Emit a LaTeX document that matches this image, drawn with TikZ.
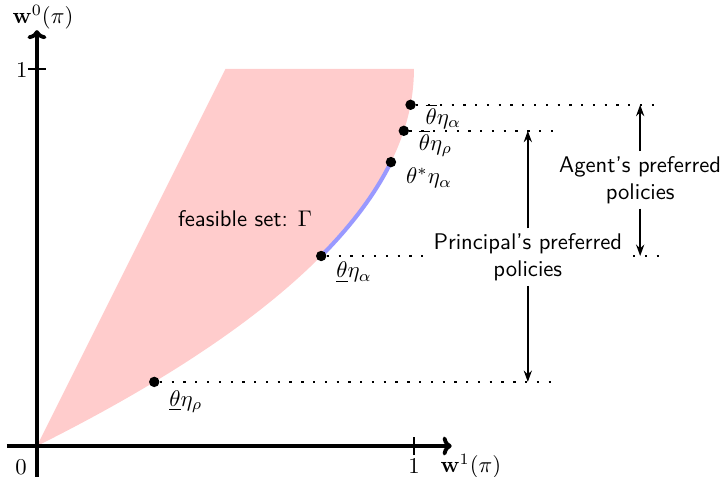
\documentclass[tikz,border=0pt]{standalone}
\usepackage{amsmath,amssymb}
\usetikzlibrary{arrows.meta, positioning}

\begin{document}
\begin{tikzpicture}[x=5.85cm, y=5.85cm, >={Stealth[length=5pt, width=3.6pt]},
  dot/.style={circle, fill, inner sep=0pt, minimum size=4.6pt},
  guide/.style={thick, dash pattern=on 1pt off 4.2pt},
  lab/.style={anchor=north west, inner sep=0pt, xshift=6.5pt, yshift=-2.5pt},
  pref/.style={align=center, font=\sffamily, inner sep=2pt}]
  \useasboundingbox (-0.098,-0.082) rectangle (1.825,1.183);
  % feasible set and the efficient piece of its frontier
  \fill[red!20] (0,0) -- (0.5,1) -- (1,1)
      .. controls (1,0.667) and (0.667,0.333) .. (0,0) -- cycle;
  \draw[blue!40, line width=1.8pt, domain=0.504:0.753, samples=30]
      plot ({\x*(2-\x)}, {\x});
  \node (fset) at (0.552,0.602) {\sffamily feasible set: $\Gamma$};
  % axes
  \coordinate (o) at (0,0);
  \draw[-{To[length=4pt]}, line width=1.7pt] (-0.08,0) -- (1.10,0) coordinate (xend);
  \draw[-{To[length=4pt]}, line width=1.7pt] (0,-0.082) -- (0,1.103) coordinate (yend);
  \draw[thick] (1,-0.024) -- (1,0.024);
  \draw[thick] (-0.024,1) -- (0.024,1);
  \node (xone) at (1,-0.053) {$1$};
  \node (yone) at (-0.04,0.997) {$1$};
  \node (zero) at (-0.042,-0.056) {$0$};
  \node (xlab) at (1.151,-0.053) {$\mathbf{w}^1(\pi)$};
  \node (ylab) at (0.016,1.138) {$\mathbf{w}^0(\pi)$};
  % points on the frontier
  \node[dot] (lr) at ({0.17*(2-0.17)},0.17) {};
  \node[dot] (la) at ({0.504*(2-0.504)},0.504) {};
  \node[dot] (sa) at ({0.753*(2-0.753)},0.753) {};
  \node[dot] (ur) at ({0.836*(2-0.836)},0.836) {};
  \node[dot] (ua) at ({0.905*(2-0.905)},0.905) {};
  \coordinate (prinend) at (1.37,0);
  \coordinate (agend) at (1.655,0);
  \draw[guide] (ua) -- (ua -| agend);
  \draw[guide] (ur) -- (ur -| prinend);
  \draw[guide] (la) -- (la -| agend);
  \draw[guide] (lr) -- (lr -| prinend);
  \node[lab, yshift=3pt] (ualab) at (ua) {$\overline{\theta}\eta_\alpha$};
  \node[lab, yshift=3pt] (urlab) at (ur) {$\overline{\theta}\eta_\rho$};
  \node[lab] (salab) at (sa) {$\theta^{*}\eta_\alpha$};
  \node[lab] (lalab) at (la) {$\underline{\theta}\eta_\alpha$};
  \node[lab, yshift=-1pt] (lrlab) at (lr) {$\underline{\theta}\eta_\rho$};
  % preferred policies
  \node[pref, fill=white] (prin) at (1.302,0.501) {Principal's preferred\\policies};
  \node[pref] (agent) at (1.6,0.706) {Agent's preferred\\policies};
  \draw[->, thick] (prin.north) -- (prin.north |- ur);
  \draw[->, thick] (prin.south) -- (prin.south |- lr);
  \draw[->, thick] (agent.north) -- (agent.north |- ua);
  \draw[->, thick] (agent.south) -- (agent.south |- la);
\end{tikzpicture}
\end{document}
